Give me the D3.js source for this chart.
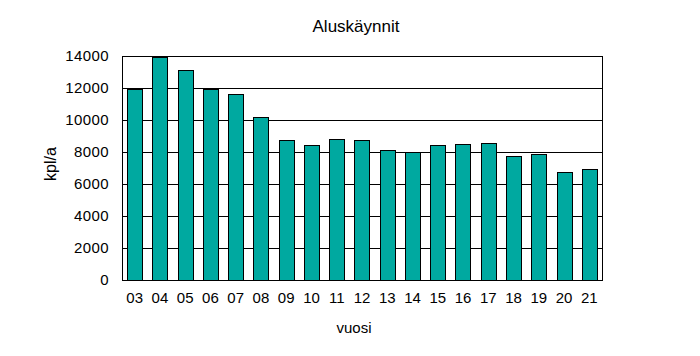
<!DOCTYPE html>
<html>
<head>
<meta charset="utf-8">
<script src="https://cdn.jsdelivr.net/npm/d3@7"></script>
<style>
  body { margin: 0; background: #fff; }
  text { font-family: "Liberation Sans", Arial, sans-serif; fill: #000; }
</style>
</head>
<body>
<div id="chart"></div>
<script>
const years = ["03","04","05","06","07","08","09","10","11","12","13","14","15","16","17","18","19","20","21"];
const visits = [11950, 13950, 13100, 11950, 11600, 10170, 8730, 8420, 8790, 8730, 8100, 7980, 8420, 8480, 8540, 7730, 7850, 6730, 6920];
const yTicks = [0, 2000, 4000, 6000, 8000, 10000, 12000, 14000];

const width = 700;
const height = 356;
const margin = { top: 56, right: 98, bottom: 76, left: 122 };

const svg = d3.select("#chart").append("svg")
    .attr("width", width)
    .attr("height", height);

const x = d3.scaleBand()
    .domain(years)
    .range([margin.left, width - margin.right])
    .paddingInner(0.4)
    .paddingOuter(0.2);

const y = d3.scaleLinear()
    .domain([0, 14000])
    .range([height - margin.bottom, margin.top]);

// gridlines
svg.append("g")
  .selectAll("line")
  .data(yTicks)
  .join("line")
    .attr("x1", margin.left)
    .attr("x2", width - margin.right)
    .attr("y1", d => y(d) + 0.5)
    .attr("y2", d => y(d) + 0.5)
    .attr("stroke", "#000")
    .attr("stroke-width", 1);

// plot frame
svg.append("rect")
    .attr("x", margin.left + 0.5)
    .attr("y", margin.top + 0.5)
    .attr("width", width - margin.right - margin.left)
    .attr("height", height - margin.bottom - margin.top)
    .attr("fill", "none")
    .attr("stroke", "#000");

// bars
svg.append("g")
  .selectAll("rect")
  .data(visits)
  .join("rect")
    .attr("x", (d, i) => Math.round(x(years[i])) + 0.5)
    .attr("y", d => Math.round(y(d)) + 0.5)
    .attr("width", Math.round(x.bandwidth()))
    .attr("height", d => Math.round(y(0)) - Math.round(y(d)))
    .attr("fill", "#00a9a0")
    .attr("stroke", "#000")
    .attr("stroke-width", 1);

// axes (labels only, lines drawn above)
const yAxis = svg.append("g")
    .attr("transform", `translate(${margin.left},0)`)
    .call(d3.axisLeft(y).tickValues(yTicks).tickFormat(d3.format("d")).tickSize(0).tickPadding(13));
yAxis.select(".domain").remove();
yAxis.selectAll("text").attr("font-size", 15).attr("letter-spacing", 0.4).style("font-family", "Liberation Sans, Arial, sans-serif");

const xAxis = svg.append("g")
    .attr("transform", `translate(0,${height - margin.bottom})`)
    .call(d3.axisBottom(x).tickSize(0).tickPadding(12));
xAxis.select(".domain").remove();
xAxis.selectAll("text").attr("font-size", 15).style("font-family", "Liberation Sans, Arial, sans-serif");

svg.append("text")
    .attr("x", 356)
    .attr("y", 32)
    .attr("text-anchor", "middle")
    .attr("font-size", 17)
    .text("Aluskäynnit");

svg.append("text")
    .attr("x", 354)
    .attr("y", 333)
    .attr("text-anchor", "middle")
    .attr("font-size", 15)
    .text("vuosi");

svg.append("text")
    .attr("transform", "translate(56,164) rotate(-90)")
    .attr("text-anchor", "middle")
    .attr("font-size", 16)
    .text("kpl/a");
</script>
</body>
</html>
